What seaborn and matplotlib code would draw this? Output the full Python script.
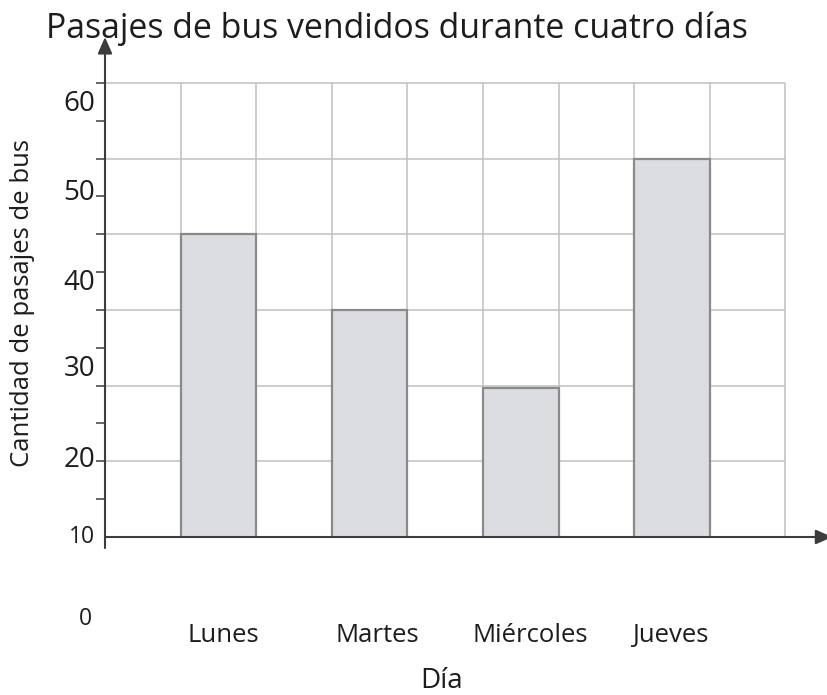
import matplotlib
matplotlib.use("Agg")
import matplotlib.pyplot as plt
import seaborn as sns
import pandas as pd

# ---- data ----
days = ["Lunes", "Martes", "Miércoles", "Jueves"]
tickets = [50, 40, 29.7, 60]
ytick_labels = ["10", "20", "30", "40", "50", "60"]
title = "Pasajes de bus vendidos durante cuatro días"
xlabel = "Día"
ylabel = "Cantidad de pasajes de bus"
origin_label = "0"

# ---- style ----
sns.set_theme(style="white")
plt.rcParams["font.family"] = ["Open Sans", "DejaVu Sans"]
TXT = "#1f1c1d"
AXC = "#3c3c3c"
GRID = "#c0c0c0"

W, H = 827, 695
fig = plt.figure(figsize=(W / 100, H / 100), dpi=100)
px_left, px_right, px_top, px_bottom = 105, 827, 30, 537
ax = fig.add_axes([px_left / W, 1 - px_bottom / H,
                   (px_right - px_left) / W, (px_bottom - px_top) / H])

df = pd.DataFrame({"day": days, "tickets": tickets})
sns.barplot(data=df, x="day", y="tickets", order=days, width=0.5,
            color="#dcdde0", saturation=1, edgecolor="#8a8a8a",
            linewidth=1.6, ax=ax, zorder=3)

x0 = -0.75
xmax = x0 + (px_right - px_left) / 151.2
ymax = 10 + (px_bottom - px_top) / 7.567
ax.set_xlim(x0, xmax)
ax.set_ylim(10, ymax)

# grid
vx = [x0 + 0.5 * k for k in range(1, 10)]
ax.vlines(vx, 10, 70, color=GRID, lw=1.1, zorder=1)
ax.hlines([20, 30, 40, 50, 60, 70], x0, x0 + 4.5, color=GRID, lw=1.1, zorder=1)

for s in ax.spines.values():
    s.set_visible(False)
ax.grid(False)

# y ticks: small marks every 5, labels at their drawn positions
ax.set_yticks([10, 15, 20, 25, 30, 35, 40, 45, 50, 55, 60, 65, 70], minor=True)
ax.set_yticks([10, 20.2, 32.2, 43.6, 55.45, 67.2], ytick_labels)
ax.tick_params(axis="y", which="minor", left=True, length=6.5, width=1.1, color=AXC)
ax.tick_params(axis="y", which="major", left=True, length=0, pad=7,
               labelsize=20, labelcolor=TXT)
ax.get_yticklabels()[0].set_fontsize(16.5)
for t in ax.get_yticklabels():
    t.set_va("center")

# x ticks
ax.set_xticks([0.03, 1.05, 2.06, 2.99], days)
ax.tick_params(axis="x", which="major", bottom=True, length=0, pad=62,
               labelsize=18.5, labelcolor=TXT)

# axis arrows
arrow = dict(arrowstyle="-|>,head_length=0.5,head_width=0.22", color=AXC,
             lw=1.5, mutation_scale=20, shrinkA=0, shrinkB=0)
ax.annotate("", xy=(x0, 76.07), xytext=(x0, 8.55), arrowprops=arrow,
            annotation_clip=False)
ax.annotate("", xy=(4.06, 10), xytext=(x0, 10), arrowprops=arrow,
            annotation_clip=False)

# labels
ax.set_ylabel(ylabel, fontsize=18.5, color=TXT, va="center")
ax.yaxis.set_label_coords((23 - px_left) / (px_right - px_left),
                          (px_bottom - 303) / (px_bottom - px_top))
ax.set_xlabel(xlabel, fontsize=20, color=TXT, va="baseline")
ax.xaxis.set_label_coords((442 - px_left) / (px_right - px_left),
                          (px_bottom - 688) / (px_bottom - px_top))
ax.set_title(title, x=(397 - px_left) / (px_right - px_left),
             y=(px_bottom - 38) / (px_bottom - px_top), pad=0,
             ha="center", va="baseline", fontsize=24.4, color=TXT)
ax.text((85 - px_left) / (px_right - px_left), (px_bottom - 625) / (px_bottom - px_top),
        origin_label, transform=ax.transAxes, ha="center", va="baseline",
        fontsize=16.5, color=TXT)

fig.savefig("out.png", dpi=100)
